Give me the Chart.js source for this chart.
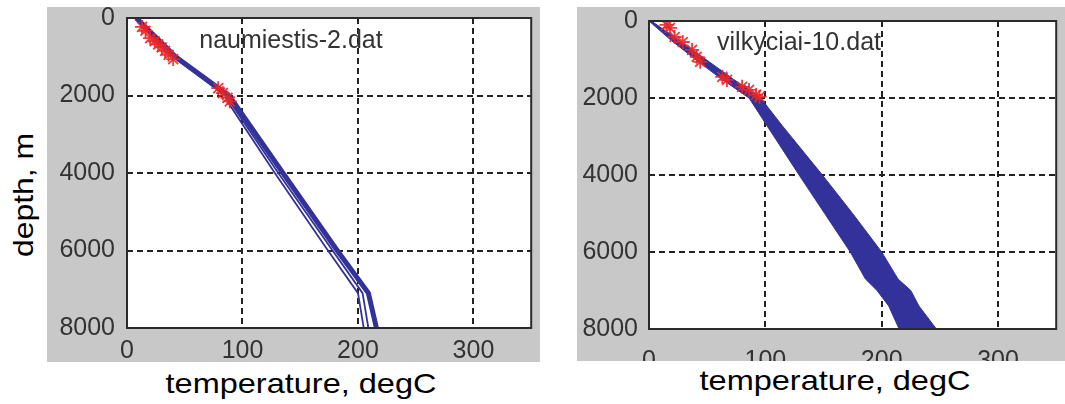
<!DOCTYPE html>
<html>
<head>
<meta charset="utf-8">
<script src="https://cdn.jsdelivr.net/npm/chart.js@4.4.0/dist/chart.umd.min.js"></script>
<style>
  body { margin: 0; background: #fff; width: 1065px; height: 404px; position: relative; overflow: hidden;
         font-family: 'Liberation Sans', Arial, sans-serif; }
  canvas { position: absolute; background: #c8c8c8; }
  #cvLeft  { left: 47px;  top: 7px; }
  #cvRight { left: 577px; top: 7px; }
  .lbl { position: absolute; white-space: nowrap; line-height: 1; }
  .plotTitle { font-size: 25px; color: #333; transform: translateX(-50%); }
  .axTitle { font-size: 28px; color: #000; transform: translateX(-50%) scaleX(1.16); }
  .yTitle { font-size: 28px; color: #000; transform: translate(-50%, -50%) rotate(-90deg) scaleX(1.14); }
</style>
</head>
<body>
<canvas id="cvLeft" width="493" height="355"></canvas>
<canvas id="cvRight" width="488" height="354"></canvas>

<div class="lbl plotTitle" style="left:291px; top:27px;">naumiestis-2.dat</div>
<div class="lbl plotTitle" style="left:799px; top:29px;">vilkyciai-10.dat</div>
<div class="lbl axTitle" style="left:301px; top:370px;">temperature, degC</div>
<div class="lbl axTitle" style="left:835px; top:367px;">temperature, degC</div>
<div class="lbl yTitle" style="left:24px; top:195px;">depth, m</div>

<script>
// ── Axis ticks ──
const xTicks = [0, 100, 200, 300];
const yTicks = [0, 2000, 4000, 6000, 8000];

// ── naumiestis-2: model curves (temperature at depth) ──
const curveDepth = [0, 1000, 2000, 2200, 4000, 6000, 7100, 8000];
const curveHighT = [8, 42, 88, 93, 135, 182, 209, 216];
const curveMidT  = [8, 41, 86, 90, 131, 178, 204, 209];
const curveLowT  = [8, 40, 85, 88, 128, 174, 200, 205];

// measured points
const naumMeasT     = [13, 16, 20, 24, 27, 30, 33, 36, 40, 79, 83, 87, 89];
const naumMeasDepth = [230, 330, 520, 600, 680, 760, 850, 950, 1060, 1810, 1940, 2060, 2150];

// ── vilkyciai-10: envelope of model curves ──
const bandDepth = [0, 500, 1000, 1500, 2000, 2700, 4000, 5000, 6000, 6700, 7000, 7400, 8000];
const bandMinT  = [0, 19, 40, 62, 86, 101, 129, 151, 173, 186, 196, 206, 215];
const bandMaxT  = [2, 26, 49, 72, 96, 114, 149, 175, 200, 214, 225, 232, 247];

// measured points
const vilkMeasT     = [15, 18, 22, 29, 37, 41, 44, 63, 67, 80, 86, 92, 95];
const vilkMeasDepth = [100, 180, 415, 545, 750, 930, 1060, 1450, 1530, 1710, 1790, 1920, 1970];

const BLUE = '#32329a';
const RED  = 'rgba(232, 38, 40, 0.9)';
const FONT = "'Liberation Sans', Arial, sans-serif";

function pts(xs, ys) {
    return xs.map((x, i) => ({ x, y: ys[i] }));
}

// white plot area + solid frame, MATLAB style
const plotFrame = {
    id: 'plotFrame',
    beforeDraw(chart) {
        const { ctx, chartArea: a } = chart;
        ctx.save();
        ctx.fillStyle = '#fff';
        ctx.fillRect(a.left, a.top, a.right - a.left, a.bottom - a.top);
        ctx.restore();
    },
    afterDraw(chart) {
        const { ctx, chartArea: a } = chart;
        ctx.save();
        ctx.strokeStyle = '#2a2a2a';
        ctx.lineWidth = 2;
        ctx.strokeRect(a.left, a.top, a.right - a.left, a.bottom - a.top);
        ctx.restore();
    }
};

function gridColor(c) {
    if (!c.tick) return 'rgba(0,0,0,0)';
    const v = c.tick.value;
    return (v === c.scale.min || v === c.scale.max) ? 'rgba(0,0,0,0)' : '#222';
}

function makeOptions(cfg) {
    return {
        responsive: false,
        animation: false,
        devicePixelRatio: 1,
        layout: { padding: { left: 0, top: cfg.padTop, right: cfg.padRight, bottom: 0 } },
        plugins: { legend: { display: false }, tooltip: { enabled: false } },
        scales: {
            x: {
                type: 'linear', position: 'bottom', min: 0, max: 350,
                afterBuildTicks: s => { s.ticks = xTicks.map(v => ({ value: v })); },
                afterFit: s => {
                    s.height = cfg.xHeight;
                    s.paddingLeft = 0; s.paddingRight = 0; s.paddingTop = 0; s.paddingBottom = 0;
                },
                ticks: { color: '#333', padding: cfg.xPad, font: { family: FONT, size: 25 }, callback: v => String(v), maxRotation: 0 },
                grid: { color: gridColor, lineWidth: 2, drawTicks: false },
                border: { display: false, dash: [6, 4] }
            },
            y: {
                type: 'linear', position: 'left', min: 0, max: 8000, reverse: true,
                afterBuildTicks: s => { s.ticks = yTicks.map(v => ({ value: v })); },
                afterFit: s => {
                    s.width = cfg.yWidth;
                    s.paddingLeft = 0; s.paddingRight = 0; s.paddingTop = 0; s.paddingBottom = 0;
                },
                ticks: { color: '#333', padding: cfg.yPad, font: { family: FONT, size: 25 }, callback: v => String(v) },
                grid: { color: gridColor, lineWidth: 2, drawTicks: false },
                border: { display: false, dash: [6, 4] }
            }
        }
    };
}

const starSet = (xs, ys) => ({
    data: pts(xs, ys),
    pointStyle: 'star',
    pointRadius: 7,
    pointBorderWidth: 1.8,
    pointBorderColor: RED,
    pointBackgroundColor: RED,
    showLine: false
});

const lineSet = (xs, ys, w) => ({
    data: pts(xs, ys),
    showLine: true,
    borderColor: BLUE,
    borderWidth: w,
    pointRadius: 0,
    fill: false
});

// ── Left: naumiestis-2 ──
new Chart(document.getElementById('cvLeft'), {
    type: 'scatter',
    data: {
        datasets: [
            starSet(naumMeasT, naumMeasDepth),
            lineSet(curveHighT, curveDepth, 5),
            lineSet(curveMidT, curveDepth, 1.8),
            lineSet(curveLowT, curveDepth, 1.8)
        ]
    },
    options: makeOptions({ padTop: 11, padRight: 4, xHeight: 34, yWidth: 80, xPad: 8, yPad: 12 }),
    plugins: [plotFrame]
});

// ── Right: vilkyciai-10 ── envelope drawn as a closed shape
const bandShape = pts(bandMinT, bandDepth).concat(pts(bandMaxT, bandDepth).reverse());

new Chart(document.getElementById('cvRight'), {
    type: 'scatter',
    data: {
        datasets: [
            starSet(vilkMeasT, vilkMeasDepth),
            {
                data: bandShape,
                showLine: true,
                borderColor: BLUE,
                borderWidth: 1,
                backgroundColor: BLUE,
                pointRadius: 0,
                fill: 'shape'
            }
        ]
    },
    options: makeOptions({ padTop: 14, padRight: 7, xHeight: 32, yWidth: 72, xPad: 17, yPad: 11 }),
    plugins: [plotFrame]
});
</script>
</body>
</html>
